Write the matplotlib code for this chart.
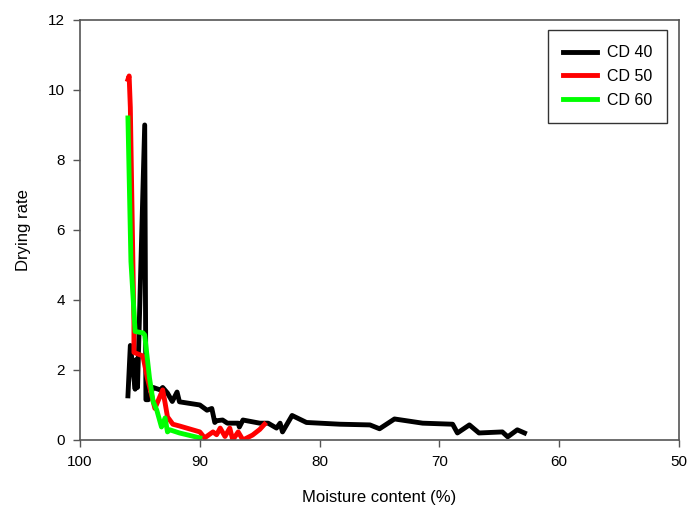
import matplotlib
matplotlib.use('Agg')
import matplotlib.pyplot as plt

plt.rcParams['font.family'] = ['Liberation Sans', 'DejaVu Sans']

# CD 40
mc40 = [96.0, 95.8, 95.4, 95.3, 95.2, 94.6, 94.5, 94.3, 93.9, 93.3, 93.1, 92.7,
        92.3, 91.9, 91.7, 90.0, 89.4, 89.0, 88.75, 88.6, 88.1, 87.7, 86.8, 86.7,
        86.4, 85.0, 84.3, 83.6, 83.3, 83.1, 82.3, 81.1, 78.3, 75.8, 75.0, 73.75,
        71.4, 68.9, 68.5, 67.5, 66.7, 64.75, 64.3, 63.5, 62.9]
dr40 = [1.26, 2.7, 1.45, 2.3, 1.5, 9.0, 1.15, 1.15, 1.5, 1.43, 1.5, 1.34,
        1.1, 1.37, 1.09, 1.0, 0.85, 0.9, 0.5, 0.55, 0.57, 0.48, 0.48, 0.37,
        0.57, 0.48, 0.48, 0.34, 0.48, 0.23, 0.7, 0.5, 0.45, 0.43, 0.32, 0.6,
        0.48, 0.45, 0.2, 0.43, 0.2, 0.23, 0.09, 0.29, 0.2]

# CD 50
mc50 = [96.0, 95.9, 95.8, 95.5, 95.5, 94.75, 94.4, 93.75, 93.1, 92.9, 92.7,
        92.25, 91.7, 90.0, 89.6, 88.9, 88.6, 88.3, 87.9, 87.5, 87.25, 86.8,
        86.4, 85.6, 85.0, 84.6]
dr50 = [10.3, 10.4, 9.5, 3.3, 2.5, 2.4, 1.8, 0.9, 1.43, 1.06, 0.66,
        0.45, 0.4, 0.23, 0.06, 0.23, 0.15, 0.34, 0.1, 0.34, 0.0, 0.23,
        0.0, 0.14, 0.3, 0.45]

# CD 60
mc60 = [96.0, 95.75, 95.4, 94.75, 94.6, 94.2, 93.9, 93.6, 93.2, 92.9, 92.7,
        92.5, 91.7, 90.25, 90.0]
dr60 = [9.2, 5.1, 3.1, 3.06, 3.0, 1.77, 1.1, 0.86, 0.37, 0.63, 0.23,
        0.29, 0.2, 0.08, 0.06]

fig = plt.figure(figsize=(6.88, 5.11), dpi=100)
ax = fig.add_axes([0.1163, 0.139, 0.8707, 0.822])

ax.plot(mc40, dr40, color='black', lw=3.5, label='CD 40', solid_joinstyle='round')
ax.plot(mc50, dr50, color='#ff0000', lw=3.5, label='CD 50', solid_joinstyle='round')
ax.plot(mc60, dr60, color='#00ff00', lw=3.5, label='CD 60', solid_joinstyle='round')

ax.set_xlim(100, 50)
ax.set_ylim(0, 12)
ax.set_xticks([100, 90, 80, 70, 60, 50])
ax.set_yticks([0, 2, 4, 6, 8, 10, 12])
ax.tick_params(direction='out', length=5, width=1, color='#555555', labelsize=11, pad=6)
for s in ax.spines.values():
    s.set_color('#555555')
    s.set_linewidth(1.2)

ax.set_xlabel('Moisture content (%)', fontsize=12, labelpad=15)
ax.set_ylabel('Drying rate', fontsize=12, labelpad=12)

leg = ax.legend(loc='upper right', bbox_to_anchor=(0.98, 0.976), fontsize=11.5,
                frameon=True, fancybox=False, edgecolor='black', handlelength=2.1,
                handletextpad=0.6, borderpad=0.95, labelspacing=0.55, borderaxespad=0)
leg.get_frame().set_linewidth(1.0)

fig.savefig('out.png', dpi=100)
